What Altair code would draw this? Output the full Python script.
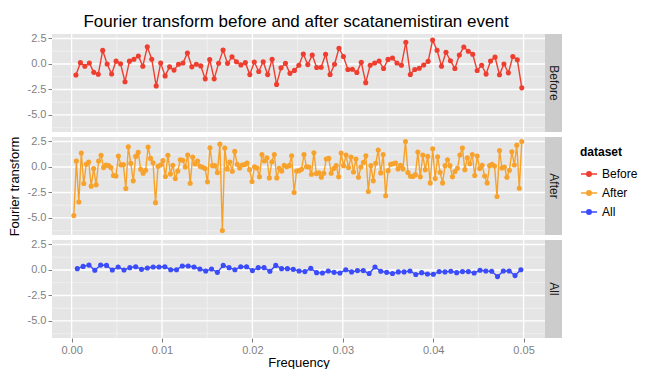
import altair as alt
import numpy as np
import pandas as pd

# ---------------- data ----------------
datasets = ["Before", "After", "All"]
colors = ["#EE3E30", "#F7A22C", "#3A4BFA"]

before_vals = [-1.08, 0.13, -0.22, 0.09, -0.82, -1.01, 1.33, 0.0, -0.98, 0.28,
               0.03, -1.74, 0.28, 0.47, 0.79, -0.22, 1.68, 0.47, -2.15, 0.09,
               -1.17, -0.28, -0.6, -0.03, 0.09, 1.08, -0.28, -0.03, -0.19, -1.46,
               0.44, -1.46, 0.06, 1.36, 0.06, 0.7, 0.22, -0.09, 0.13, -1.04,
               0.19, -0.73, 0.22, -1.04, 0.47, -2.0, -0.38, 0.06, -0.92, -0.63,
               -0.13, 0.98, -0.06, 0.87, -0.35, -0.32, 0.96, -1.03, -0.03, 1.54,
               0.74, -0.54, -0.51, -0.83, 0.16, -1.83, -0.13, 0.1, 0.29, -0.45,
               0.45, 0.58, 0.1, -0.13, 2.12, -1.03, -0.54, -0.42, -0.1, 0.26,
               2.34, 1.35, -0.22, 1.15, 0.32, -0.45, 0.87, 1.67, 1.25, 0.96,
               -0.64, -0.13, -0.99, 0.29, 0.67, -1.06, 0.0, -0.87, 0.74, 0.42,
               -2.34]
before_freq_range = [0.00048, 0.0498]

after_vals = [-4.77, 0.58, -3.44, 1.36, -1.62, 0.26, 0.49, -1.88, -0.16, -1.75,
              0.58, 1.14, -0.06, 0.2, 0.13, -0.06, -0.84, -0.88, 1.07, 0.2,
              0.23, -2.11, 1.98, 0.36, -1.36, 1.04, 1.43, -0.23, -0.62, -0.32,
              1.95, 0.84, 0.42, -3.5, 0.06, 0.2, 0.62, -0.94, 1.14, -0.68,
              0.16, -1.14, -0.39, 0.71, 0.65, 0.0, 1.17, -1.59, 0.97, 0.29,
              0.58, 0.06, -0.03, -0.16, -1.46, 1.88, 0.13, 0.13, -0.55, 2.24,
              -6.23, 1.85, -0.19, 0.49, -0.42, 1.53, 0.26, -0.1, 0.2, 0.23,
              0.39, -0.26, -1.43, 0.03, -0.1, -0.97, 1.23, 0.58, 0.91, -1.07,
              0.52, 1.23, -1.07, -0.13, -0.39, 0.16, 0.03, 0.13, 1.1, -2.5,
              -0.39, -0.36, -0.23, 1.23,
              0.03, 0.0, -0.71, 1.4, -0.65, -0.58, -1.01, -0.62, 0.78, 0.84,
              -0.62, -0.16, 0.13, -0.97, 1.36, 0.13, 1.17, -0.06, 0.97, -0.49,
              0.78, -1.01, 0.0, 0.45, 1.1, -2.4, 0.13, -1.36, 0.36, 1.66,
              -0.58, 1.23, -2.82, -0.36, 0.26, 0.32, 0.39, -0.19, 0.16, -0.19,
              2.5, -0.55, -0.91, -0.94, -0.75, 1.46, -0.97, 1.17, -0.26, 1.04,
              -1.56, 1.79, -1.14, 1.0, -0.52, -1.56, 0.13, 0.71, 0.13, -0.97,
              -0.45, -0.13, 1.17, 1.85, -0.26, 0.91, 0.32, 1.23, -0.84, 1.07,
              -0.16, 0.16, -0.88, -1.56, 0.13, 0.26, 0.1, -2.89, 1.62, -0.1,
              0.0, -1.01, -0.32, 1.49, 0.2, 2.14, -2.08, 2.5]
after_freq_range = [0.00025, 0.0498]

all_vals = [0.13, 0.35, 0.48, -0.03, 0.48, 0.45, 0.0, 0.29, 0.0, 0.23,
            0.32, 0.06, 0.19, 0.29, 0.29, 0.32, 0.03, 0.03, 0.39, 0.39,
            0.29, 0.1, -0.1, 0.1, -0.23, 0.45, 0.23, 0.03, 0.32, 0.32,
            -0.06, 0.23, 0.23, -0.13, 0.45, 0.13, 0.13, 0.06, -0.1, -0.16,
            0.16, -0.26, -0.29, -0.1, -0.23, -0.29, 0.03, -0.19, -0.06, -0.06,
            -0.35, 0.29, -0.13, -0.23, -0.35, -0.19, -0.19, -0.1, -0.45, -0.26,
            -0.39, -0.42, -0.16, -0.19, -0.13, -0.26, -0.16, -0.16, -0.29, -0.03,
            -0.1, -0.13, -0.65, -0.1, -0.1, -0.55, 0.03]
all_freq_range = [0.00063, 0.0497]

x_major = [0.0, 0.01, 0.02, 0.03, 0.04, 0.05]
x_minor = [0.005, 0.015, 0.025, 0.035, 0.045]
y_major = [-5.0, -2.5, 0.0, 2.5]
y_minor = [-6.25, -3.75, -1.25, 1.25]

x_domain = [-0.00217, 0.05237]
y_domain = [-6.67, 2.94]

PW, PH = 493, 98
STRIP_W = 17
FONT = "Liberation Sans"


def series_df(name, vals, frange):
    freqs = np.linspace(frange[0], frange[1], len(vals))
    return pd.DataFrame({"Frequency": freqs, "value": vals, "dataset": name})


series = {
    "Before": series_df("Before", before_vals, before_freq_range),
    "After": series_df("After", after_vals, after_freq_range),
    "All": series_df("All", all_vals, all_freq_range),
}

color_scale = alt.Scale(domain=datasets, range=colors)
legend = alt.Legend(
    title="dataset", orient="none", legendX=528, legendY=113,
    titleFontSize=12, titleFontWeight="bold", titleColor="#000000", titleFont=FONT,
    labelFontSize=12, labelColor="#000000", labelFont=FONT,
    symbolType="M-1,0H1M0.28,0A0.28,0.28,0,1,1,-0.28,0A0.28,0.28,0,1,1,0.28,0Z",
    symbolSize=256, symbolStrokeWidth=1.5, rowPadding=4, titlePadding=6,
    labelOffset=4,
)

xs = alt.Scale(domain=x_domain, nice=False, zero=False)
ys = alt.Scale(domain=y_domain, nice=False, zero=False)


def panel(name, bottom, show_ytitle):
    if bottom:
        xaxis = alt.Axis(values=x_major, format=".2f", grid=False, domain=False,
                         labelColor="#7F7F7F", labelFontSize=11, labelFont=FONT,
                         tickColor="#7F7F7F", tickSize=4, labelPadding=2,
                         title="Frequency", titleFontSize=13, titleFont=FONT,
                         titleFontWeight="normal", titleColor="#000000",
                         titlePadding=1)
    else:
        xaxis = None
    yaxis = alt.Axis(values=y_major, grid=False, domain=False,
                     labelExpr="replace(format(datum.value, '.1f'), '\u2212', '-')",
                     labelColor="#7F7F7F", labelFontSize=11, labelFont=FONT,
                     tickColor="#7F7F7F", tickSize=4, labelPadding=2,
                     title="Fourier transform", titleFontSize=13, titleFont=FONT,
                     titleFontWeight="normal", titleColor="#000000",
                     titleOpacity=1 if show_ytitle else 0, titlePadding=6)

    def xr(vals, color, w):
        return alt.Chart(pd.DataFrame({"x": vals})).mark_rule(
            color=color, strokeWidth=w).encode(
            x=alt.X("x:Q", scale=xs, axis=xaxis))

    def yr(vals, color, w):
        return alt.Chart(pd.DataFrame({"y": vals})).mark_rule(
            color=color, strokeWidth=w).encode(
            y=alt.Y("y:Q", scale=ys, axis=yaxis))

    df = series[name]
    base = alt.Chart(df).encode(
        x=alt.X("Frequency:Q", scale=xs, axis=xaxis),
        y=alt.Y("value:Q", scale=ys, axis=yaxis),
        color=alt.Color("dataset:N", scale=color_scale, legend=legend),
    )
    line = base.mark_line(strokeWidth=1.4)
    pts = base.mark_point(filled=True, size=26, opacity=1)

    strip_df = pd.DataFrame({"label": [name]})
    strip = alt.Chart(strip_df).mark_rect(color="#CCCCCC").encode(
        x=alt.value(PW), x2=alt.value(PW + STRIP_W),
        y=alt.value(0), y2=alt.value(PH))
    strip_txt = alt.Chart(strip_df).mark_text(
        angle=90, fontSize=12, font=FONT, color="#1A1A1A",
        align="center", baseline="middle").encode(
        x=alt.value(PW + STRIP_W / 2), y=alt.value(PH / 2), text="label:N")

    return alt.layer(
        yr(y_minor, "#F2F2F2", 0.8),
        xr(x_minor, "#F2F2F2", 0.8),
        yr(y_major, "#FFFFFF", 1.3),
        xr(x_major, "#FFFFFF", 1.3),
        line, pts, strip, strip_txt,
    ).properties(width=PW, height=PH)


chart = alt.vconcat(
    panel("Before", False, False),
    panel("After", False, True),
    panel("All", True, False),
    spacing=5,
    bounds="flush",
).properties(
    title=alt.TitleParams(
        "Fourier transform before and after scatanemistiran event",
        fontSize=17, font=FONT, fontWeight="normal", color="#000000",
        anchor="middle", offset=1, dx=-27),
    padding={"left": 0, "top": 5, "right": 0, "bottom": 0},
    background="#FFFFFF",
).configure_view(
    fill="#E5E5E5", stroke=None
)

chart.save("out.html", embed_options={"renderer": "svg", "actions": False})
